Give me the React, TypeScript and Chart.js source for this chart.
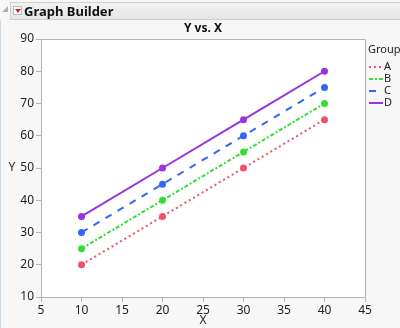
import React, { useEffect, useRef } from "react";
import { Chart, registerables } from "chart.js";

Chart.register(...registerables);

const xValues = [10, 20, 30, 40];
const groups = ["A", "B", "C", "D"];
const seriesA = [20, 35, 50, 65];
const seriesB = [25, 40, 55, 70];
const seriesC = [30, 45, 60, 75];
const seriesD = [35, 50, 65, 80];
const colors = ["#f2506c", "#33dd33", "#3366f5", "#9933dd"];
const dashes = [[2, 3], [4, 2, 2, 2], [7, 7], []];

const FONT = "'Noto Sans', 'DejaVu Sans', sans-serif";

const decorPlugin = {
  id: "decor",
  afterDraw(chart: any) {
    const { ctx, chartArea } = chart;
    const { left, top, right, bottom } = chartArea;
    ctx.save();
    ctx.strokeStyle = "#b4b4b4";
    ctx.lineWidth = 1;
    ctx.setLineDash([]);
    ctx.beginPath();
    ctx.moveTo(left, top + 0.5);
    ctx.lineTo(right + 0.5, top + 0.5);
    ctx.lineTo(right + 0.5, bottom);
    ctx.stroke();

    ctx.fillStyle = "#111";
    ctx.font = `bold 12px ${FONT}`;
    ctx.textAlign = "center";
    ctx.textBaseline = "middle";
    ctx.fillText("Y vs. X", (left + right) / 2, 29);

    ctx.font = `12px ${FONT}`;
    ctx.fillStyle = "#222";
    ctx.fillText("X", (left + right) / 2, 321);
    ctx.fillText("Y", 12, 168);

    ctx.textAlign = "left";
    ctx.font = `11px ${FONT}`;
    ctx.fillText("Group", 368, 50);
    const ys = [67, 79, 91, 103];
    groups.forEach((g, i) => {
      ctx.strokeStyle = colors[i];
      ctx.lineWidth = 2;
      ctx.setLineDash(dashes[i]);
      ctx.beginPath();
      ctx.moveTo(369, ys[i]);
      ctx.lineTo(383, ys[i]);
      ctx.stroke();
      ctx.setLineDash([]);
      ctx.fillStyle = "#222";
      ctx.fillText(g, 384, ys[i]);
    });
    ctx.restore();
  },
  beforeDraw(chart: any) {
    const { ctx, chartArea } = chart;
    ctx.save();
    ctx.fillStyle = "#ffffff";
    ctx.fillRect(chartArea.left, chartArea.top, chartArea.right - chartArea.left, chartArea.bottom - chartArea.top);
    ctx.restore();
  },
};

export default function App() {
  const ref = useRef<HTMLCanvasElement>(null);
  useEffect(() => {
    document.body.style.margin = "0";
    const all = [seriesA, seriesB, seriesC, seriesD];
    const chart = new Chart(ref.current!, {
      type: "line",
      data: {
        datasets: groups.map((g, i) => ({
          label: g,
          data: xValues.map((x, j) => ({ x, y: all[i][j] })),
          borderColor: colors[i],
          backgroundColor: colors[i],
          borderWidth: 2,
          borderDash: dashes[i],
          pointRadius: 3.5,
          pointBorderWidth: 0,
          fill: false,
          tension: 0,
        })),
      },
      plugins: [decorPlugin],
      options: {
        animation: false,
        responsive: false,
        maintainAspectRatio: false,
        layout: { padding: { top: 39, right: 35, left: 0, bottom: 0 } },
        plugins: { legend: { display: false }, title: { display: false }, tooltip: { enabled: false } },
        scales: {
          x: {
            type: "linear",
            min: 5,
            max: 45,
            ticks: { stepSize: 5, color: "#222", font: { family: FONT, size: 12 }, padding: 1, maxRotation: 0 },
            grid: { drawOnChartArea: false, drawTicks: true, tickLength: 5, color: "#b4b4b4" },
            border: { display: true, color: "#b4b4b4" },
            afterFit: (s: any) => { s.height = 31; },
          },
          y: {
            type: "linear",
            min: 10,
            max: 90,
            ticks: { stepSize: 10, color: "#222", font: { family: FONT, size: 12 }, padding: 2 },
            grid: { drawOnChartArea: false, drawTicks: true, tickLength: 5, color: "#b4b4b4" },
            border: { display: true, color: "#b4b4b4" },
            afterFit: (s: any) => { s.width = 41; },
          },
        },
      },
    } as any);
    return () => chart.destroy();
  }, []);

  return (
    <div style={{ position: "relative", width: 400, height: 328, background: "#f7f7f7", overflow: "hidden", fontFamily: FONT }}>
      <canvas ref={ref} width={400} height={328} style={{ position: "absolute", left: 0, top: 0, width: 400, height: 328 }} />
      <div style={{ position: "absolute", left: 0, top: 20, width: 1, height: 308, background: "#c9dcee" }} />
      <div style={{ position: "absolute", left: 10, top: 2, width: 392, height: 18, background: "linear-gradient(#f2f2f2, #e6e6e6)", border: "1px solid #cfcfcf", boxSizing: "border-box" }} />
      <div style={{ position: "absolute", left: 2, top: 6, width: 0, height: 0, borderLeft: "6px solid transparent", borderBottom: "6px solid #b0b0b0" }} />
      <div style={{ position: "absolute", left: 13, top: 6, width: 9, height: 9, background: "#fff", border: "1px solid #b8b8b8", boxSizing: "border-box" }} />
      <div style={{ position: "absolute", left: 15, top: 9, width: 0, height: 0, borderLeft: "3px solid transparent", borderRight: "3px solid transparent", borderTop: "4px solid #e02020" }} />
      <div style={{ position: "absolute", left: 24, top: 2, height: 18, lineHeight: "18px", fontWeight: "bold", fontSize: 13, color: "#111" }}>Graph Builder</div>
    </div>
  );
}
